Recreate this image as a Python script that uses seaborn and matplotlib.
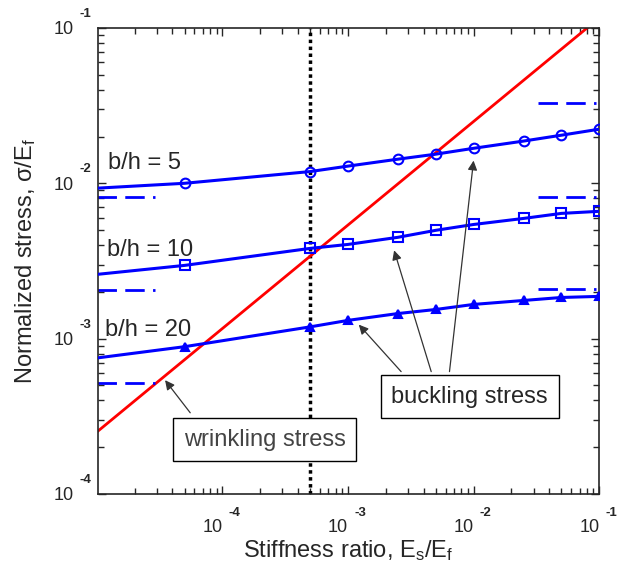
import numpy as np
import pandas as pd
import matplotlib
matplotlib.use("Agg")
import matplotlib.pyplot as plt
from matplotlib.ticker import LogLocator, NullFormatter
from matplotlib.transforms import offset_copy
import seaborn as sns

# values
ratio = [1e-5, 5e-5, 5e-4, 1e-3, 2.5e-3, 5e-3, 1e-2, 2.5e-2, 5e-2, 1e-1]
buckle_bh5 = [9.3e-3, 1.0e-2, 1.19e-2, 1.29e-2, 1.43e-2, 1.54e-2, 1.68e-2, 1.87e-2, 2.04e-2, 2.23e-2]
buckle_bh10 = [2.59e-3, 2.96e-3, 3.81e-3, 4.04e-3, 4.49e-3, 4.98e-3, 5.43e-3, 5.94e-3, 6.4e-3, 6.6e-3]
buckle_bh20 = [7.5e-4, 8.87e-4, 1.19e-3, 1.31e-3, 1.45e-3, 1.54e-3, 1.66e-3, 1.76e-3, 1.84e-3, 1.87e-3]

wrinkle_ratio = [1e-5, 1e-1]
wrinkle_stress = [2.5e-4, 1.16e-1]

# asymptotic limits (dashed)
low_limit_ratio = [1e-5, 2.9e-5]
high_limit_ratio = [3.25e-2, 9.5e-2]
low_limit = [8.2e-3, 2.06e-3, 5.2e-4]
high_limit = [3.3e-2, 8.2e-3, 2.1e-3]

transition_ratio = 5e-4
bh_labels = ["b/h = 5", "b/h = 10", "b/h = 20"]
x_ticks = [1e-4, 1e-3, 1e-2, 1e-1]
y_ticks = [1e-4, 1e-3, 1e-2, 1e-1]
tick_exps = ["-4", "-3", "-2", "-1"]

sns.set_style("ticks")
plt.rcParams["font.family"] = ["Liberation Sans", "DejaVu Sans"]
plt.rcParams["mathtext.fontset"] = "custom"
plt.rcParams["mathtext.rm"] = "Liberation Sans"
plt.rcParams["mathtext.it"] = "Liberation Sans:italic"

fig = plt.figure(figsize=(6.19, 5.71), dpi=100)
ax = fig.add_axes([0.158, 0.135, 0.81, 0.816])
ax.set_xscale("log")
ax.set_yscale("log")

# wrinkling stress
sns.lineplot(x=wrinkle_ratio, y=wrinkle_stress, color="red", lw=2, ax=ax, zorder=2)

# buckling stress curves
styles = [("o", buckle_bh5, "none", 7), ("s", buckle_bh10, "none", 7), ("^", buckle_bh20, "blue", 6)]
for marker, vals, mfc, ms in styles:
    sns.lineplot(x=ratio, y=vals, color="blue", lw=2.2, marker=marker, ms=ms,
                 markerfacecolor=mfc, markeredgecolor="blue", markeredgewidth=1.5,
                 markevery=list(range(1, len(ratio))), ax=ax, zorder=3)

# dashed limits
for lo, hi in zip(low_limit, high_limit):
    sns.lineplot(x=low_limit_ratio, y=[lo, lo], color="blue", lw=2, ax=ax).lines[-1].set_dashes((7, 3))
    sns.lineplot(x=high_limit_ratio, y=[hi, hi], color="blue", lw=2, ax=ax).lines[-1].set_dashes((7, 3))

ax.axvline(transition_ratio, color="black", ls=(0, (1, 1)), lw=2.5, zorder=1)

ax.set_xlim(1.02e-5, 1e-1)
ax.set_ylim(1e-4, 1e-1)
ax.set_xticks(x_ticks)
ax.set_yticks(y_ticks)
ax.xaxis.set_minor_locator(LogLocator(base=10, subs=np.arange(2, 10), numticks=20))
ax.yaxis.set_minor_locator(LogLocator(base=10, subs=np.arange(2, 10), numticks=20))
ax.xaxis.set_minor_formatter(NullFormatter())
ax.yaxis.set_minor_formatter(NullFormatter())
ax.tick_params(which="both", direction="in", top=True, right=True, width=1,
               labelbottom=False, labelleft=False)
ax.tick_params(which="major", length=6)
ax.tick_params(which="minor", length=4)
for s in ax.spines.values():
    s.set_linewidth(1.2)

# MATLAB-style tick labels: "10" with a raised exponent
xt = ax.get_xaxis_transform()
yt = ax.get_yaxis_transform()
for t, e in zip(x_ticks, tick_exps):
    ax.text(t, 0, "10", fontsize=13, ha="center", va="center",
            transform=offset_copy(xt, fig, x=-10, y=-34, units="dots"))
    ax.text(t, 0, e, fontsize=9.5, fontweight="bold", ha="center", va="center",
            transform=offset_copy(xt, fig, x=12, y=-19, units="dots"))
for t, e in zip(y_ticks, tick_exps):
    ax.text(0, t, "10", fontsize=13, ha="center", va="center",
            transform=offset_copy(yt, fig, x=-34, y=-2, units="dots"))
    ax.text(0, t, e, fontsize=9.5, fontweight="bold", ha="center", va="center",
            transform=offset_copy(yt, fig, x=-12, y=14, units="dots"))

ax.set_xlabel("Stiffness ratio, E$_\\mathregular{s}$/E$_\\mathregular{f}$", fontsize=17)
ax.set_ylabel("Normalized stress, σ/E$_\\mathregular{f}$", fontsize=17)
ax.xaxis.set_label_coords(0.5, -0.095)
ax.yaxis.set_label_coords(-0.12, 0.5)

# curve labels
ax.text(1.24e-5, 1.35e-2, bh_labels[0], fontsize=17, va="center")
ax.text(1.2e-5, 3.7e-3, bh_labels[1], fontsize=17, va="center")
ax.text(1.17e-5, 1.14e-3, bh_labels[2], fontsize=17, va="center")

box = dict(boxstyle="square,pad=0.45", fc="white", ec="black", lw=1)
ax.text(2.17e-4, 2.23e-4, "wrinkling stress", fontsize=17, color="#444444",
        ha="center", va="center", bbox=box, zorder=5)
ax.text(9.3e-3, 4.23e-4, "buckling stress", fontsize=17, ha="center", va="center",
        bbox=box, zorder=5)

arrow = dict(arrowstyle="-|>", color="#333333", lw=0.9, mutation_scale=14, shrinkA=0, shrinkB=0)
ax.annotate("", xy=(3.5e-5, 5.4e-4), xytext=(5.55e-5, 3.33e-4), arrowprops=arrow, zorder=4)
ax.annotate("", xy=(1.22e-3, 1.23e-3), xytext=(2.65e-3, 6.13e-4), arrowprops=arrow, zorder=4)
ax.annotate("", xy=(2.33e-3, 3.7e-3), xytext=(4.6e-3, 6.13e-4), arrowprops=arrow, zorder=4)
ax.annotate("", xy=(1.0e-2, 1.4e-2), xytext=(6.43e-3, 6.13e-4), arrowprops=arrow, zorder=4)

fig.savefig("out.png", dpi=100)
